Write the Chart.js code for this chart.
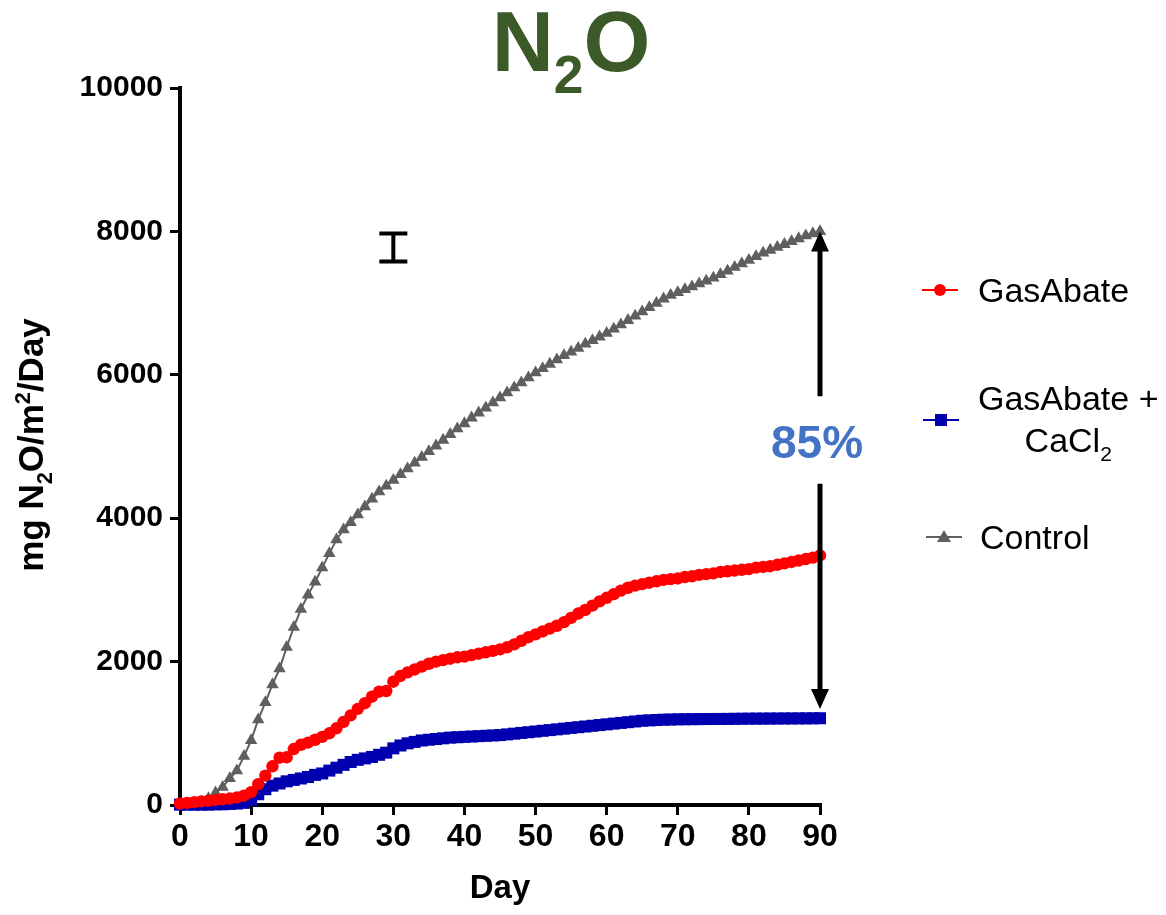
<!DOCTYPE html>
<html>
<head>
<meta charset="utf-8">
<title>N2O</title>
<script src="https://cdn.jsdelivr.net/npm/chart.js@4.4.1/dist/chart.umd.min.js"></script>
<style>
  html, body { margin: 0; padding: 0; background: #fff; }
</style>
</head>
<body>
<canvas id="chart" width="1166" height="915"></canvas>
<script>
const days = [0,1,2,3,4,5,6,7,8,9,10,11,12,13,14,15,16,17,18,19,20,21,22,23,24,25,26,27,28,29,30,
  31,32,33,34,35,36,37,38,39,40,41,42,43,44,45,46,47,48,49,50,51,52,53,54,55,56,57,58,59,60,
  61,62,63,64,65,66,67,68,69,70,71,72,73,74,75,76,77,78,79,80,81,82,83,84,85,86,87,88,89,90];

// cumulative mg N2O/m2
const gasAbate = [20,30,40,50,60,70,80,90,105,130,180,
  290,410,540,660,665,780,840,870,910,950,
  1000,1070,1160,1250,1340,1420,1510,1580,1590,1720,
  1800,1850,1890,1930,1970,2000,2020,2040,2060,2070,
  2090,2110,2130,2150,2170,2200,2240,2290,2340,2380,
  2420,2460,2500,2550,2610,2670,2720,2780,2840,2890,
  2940,2990,3030,3060,3080,3100,3120,3140,3150,3160,
  3180,3190,3210,3220,3230,3250,3260,3270,3280,3290,
  3310,3320,3330,3350,3370,3390,3410,3430,3450,3480];
const gasAbateCaCl2 = [5,5,5,5,5,10,10,15,20,30,70,
  150,220,270,300,330,350,370,390,420,440,
  480,520,560,600,630,650,670,700,730,790,
  830,860,880,900,910,920,930,940,945,950,
  955,960,965,970,975,985,995,1005,1015,1025,
  1035,1045,1055,1065,1075,1085,1095,1105,1115,1125,
  1135,1145,1155,1165,1175,1180,1185,1190,1192,1195,
  1196,1197,1198,1199,1200,1200,1201,1202,1203,1204,
  1205,1205,1206,1206,1207,1207,1208,1208,1209,1210];
const control = [0,5,15,40,90,170,250,370,480,680,900,
  1190,1430,1680,1900,2200,2480,2730,2930,3110,3310,
  3510,3700,3840,3940,4050,4160,4270,4370,4450,4530,
  4610,4690,4770,4850,4930,5010,5090,5170,5250,5320,
  5400,5470,5540,5610,5680,5750,5820,5890,5960,6030,
  6090,6150,6210,6270,6320,6370,6430,6480,6530,6580,
  6640,6700,6760,6820,6880,6940,7000,7060,7110,7150,
  7190,7230,7270,7310,7350,7400,7450,7500,7550,7600,
  7650,7700,7740,7780,7820,7860,7900,7940,7970,8000];

const xTicks = [0,10,20,30,40,50,60,70,80,90];
const yTicks = [0,2000,4000,6000,8000,10000];

// reduction arrow and the representative error bar
const arrowDay = 90, arrowTop = 8000, arrowBottom = 1340;
const arrowGapTop = 5700, arrowGapBottom = 4480, labelValue = 5020;
const reductionLabel = "85%";
const errDay = 30, errLow = 7580, errHigh = 7970;

const RED = "#ff0000", BLUE = "#0000b0", GREY = "#5f5f5f";
const FONT = '"Liberation Sans", Arial, sans-serif';

function pts(ys) {
  return days.map((d, i) => ({ x: d, y: ys[i] }));
}

// text with sub/superscript pieces
function richWidth(ctx, parts, size, weight) {
  let w = 0;
  parts.forEach(p => {
    ctx.font = weight + " " + (p.k ? size * 0.62 : size) + "px " + FONT;
    w += ctx.measureText(p.t).width;
  });
  return w;
}
function drawRich(ctx, parts, x, y, size, weight, color, align) {
  const w = richWidth(ctx, parts, size, weight);
  let cx = align === "center" ? x - w / 2 : align === "right" ? x - w : x;
  ctx.fillStyle = color;
  ctx.textAlign = "left";
  ctx.textBaseline = "alphabetic";
  parts.forEach(p => {
    ctx.font = weight + " " + (p.k ? size * 0.62 : size) + "px " + FONT;
    let dy = 0;
    if (p.k === "sub") dy = size * 0.25;
    if (p.k === "sup") dy = -size * 0.38;
    ctx.fillText(p.t, cx, y + dy);
    cx += ctx.measureText(p.t).width;
  });
}

function marker(ctx, style, x, y, color) {
  ctx.fillStyle = color;
  ctx.beginPath();
  if (style === "circle") ctx.arc(x, y, 6, 0, Math.PI * 2);
  else if (style === "rect") ctx.rect(x - 6, y - 6, 12, 12);
  else { ctx.moveTo(x, y - 7); ctx.lineTo(x + 7, y + 5); ctx.lineTo(x - 7, y + 5); ctx.closePath(); }
  ctx.fill();
}

const extras = {
  id: "extras",
  afterDraw(chart) {
    const ctx = chart.ctx;
    const xs = chart.scales.x, ys = chart.scales.y;
    ctx.save();

    // title
    drawRich(ctx, [{ t: "N" }, { t: "2", k: "sub" }, { t: "O" }], 571, 71, 86, "bold", "#3b5a27", "center");

    // y axis title
    ctx.save();
    ctx.translate(43, 445);
    ctx.rotate(-Math.PI / 2);
    drawRich(ctx, [{ t: "mg N" }, { t: "2", k: "sub" }, { t: "O/m" }, { t: "2", k: "sup" }, { t: "/Day" }],
      0, 0, 35, "bold", "#000", "center");
    ctx.restore();

    // legend
    const items = [
      { color: RED, style: "circle", y: 290, x0: 922, lines: [[{ t: "GasAbate" }]], tx: 978 },
      { color: BLUE, style: "rect", y: 420, x0: 923,
        lines: [[{ t: "GasAbate +" }], [{ t: "CaCl" }, { t: "2", k: "sub" }]], tx: 978 },
      { color: GREY, style: "triangle", y: 537, x0: 926, lines: [[{ t: "Control" }]], tx: 980 }
    ];
    items.forEach(it => {
      ctx.strokeStyle = it.color;
      ctx.lineWidth = 2;
      ctx.beginPath();
      ctx.moveTo(it.x0, it.y);
      ctx.lineTo(it.x0 + 36, it.y);
      ctx.stroke();
      marker(ctx, it.style, it.x0 + 18, it.y, it.color);
      if (it.lines.length === 1) {
        drawRich(ctx, it.lines[0], it.tx, it.y + 12, 34, "normal", "#000", "left");
      } else {
        const w = richWidth(ctx, it.lines[0], 34, "normal");
        drawRich(ctx, it.lines[0], it.tx, it.y - 22 + 12, 34, "normal", "#000", "left");
        drawRich(ctx, it.lines[1], it.tx + w / 2, it.y + 20 + 12, 34, "normal", "#000", "center");
      }
    });

    // double arrow with label
    const ax = xs.getPixelForValue(arrowDay);
    const yTop = ys.getPixelForValue(arrowTop), yBot = ys.getPixelForValue(arrowBottom);
    const g1 = ys.getPixelForValue(arrowGapTop), g2 = ys.getPixelForValue(arrowGapBottom);
    ctx.strokeStyle = "#000";
    ctx.fillStyle = "#000";
    ctx.lineWidth = 5;
    ctx.beginPath();
    ctx.moveTo(ax, yTop + 18); ctx.lineTo(ax, g1);
    ctx.moveTo(ax, g2); ctx.lineTo(ax, yBot - 18);
    ctx.stroke();
    ctx.beginPath();
    ctx.moveTo(ax, yTop); ctx.lineTo(ax + 9, yTop + 20); ctx.lineTo(ax - 9, yTop + 20); ctx.closePath();
    ctx.moveTo(ax, yBot); ctx.lineTo(ax + 9, yBot - 20); ctx.lineTo(ax - 9, yBot - 20); ctx.closePath();
    ctx.fill();
    ctx.font = "bold 46px " + FONT;
    ctx.fillStyle = "#4472c4";
    ctx.textAlign = "center";
    ctx.textBaseline = "middle";
    ctx.fillText(reductionLabel, ax - 3, ys.getPixelForValue(labelValue));

    // error bar
    const ex = xs.getPixelForValue(errDay);
    const e1 = ys.getPixelForValue(errLow), e2 = ys.getPixelForValue(errHigh);
    ctx.strokeStyle = "#000";
    ctx.lineWidth = 4;
    ctx.beginPath();
    ctx.moveTo(ex, e1); ctx.lineTo(ex, e2);
    ctx.moveTo(ex - 14, e1); ctx.lineTo(ex + 14, e1);
    ctx.moveTo(ex - 14, e2); ctx.lineTo(ex + 14, e2);
    ctx.stroke();

    ctx.restore();
  }
};

new Chart(document.getElementById("chart"), {
  type: "line",
  plugins: [extras],
  data: {
    datasets: [
      { label: "GasAbate", data: pts(gasAbate), order: 1,
        borderColor: RED, backgroundColor: RED, borderWidth: 2,
        pointStyle: "circle", pointRadius: 6.2, pointBorderWidth: 0, clip: false },
      { label: "GasAbate + CaCl2", data: pts(gasAbateCaCl2), order: 2,
        borderColor: BLUE, backgroundColor: BLUE, borderWidth: 2,
        pointStyle: "rect", pointRadius: 8.5, pointBorderWidth: 0, clip: false },
      { label: "Control", data: pts(control), order: 3,
        borderColor: GREY, backgroundColor: GREY, borderWidth: 2,
        pointStyle: "triangle", pointRadius: 7.2, pointBorderWidth: 0, clip: false }
    ]
  },
  options: {
    responsive: false,
    animation: false,
    layout: { padding: { top: 88, right: 346, left: 0, bottom: 0 } },
    plugins: { legend: { display: false }, tooltip: { enabled: false } },
    scales: {
      x: {
        type: "linear", min: 0, max: 90,
        afterFit: s => { s.height = 110; },
        afterBuildTicks: s => { s.ticks = xTicks.map(v => ({ value: v })); },
        grid: { drawOnChartArea: false, drawTicks: true, tickLength: 10, color: "#000", lineWidth: 3 },
        border: { display: true, color: "#000", width: 4 },
        ticks: { color: "#000", padding: 3, maxRotation: 0, font: { family: FONT, size: 32, weight: "bold" } },
        title: { display: true, text: "Day", color: "#000", padding: { top: 4, bottom: 6 },
          font: { family: FONT, size: 33, weight: "bold" } }
      },
      y: {
        min: 0, max: 10000,
        afterFit: s => { s.width = 180; },
        afterBuildTicks: s => { s.ticks = yTicks.map(v => ({ value: v })); },
        grid: { drawOnChartArea: false, drawTicks: true, tickLength: 10, color: "#000", lineWidth: 3 },
        border: { display: true, color: "#000", width: 4 },
        ticks: { color: "#000", padding: 7, callback: v => String(v), font: { family: FONT, size: 30, weight: "bold" } }
      }
    }
  }
});
</script>
</body>
</html>
